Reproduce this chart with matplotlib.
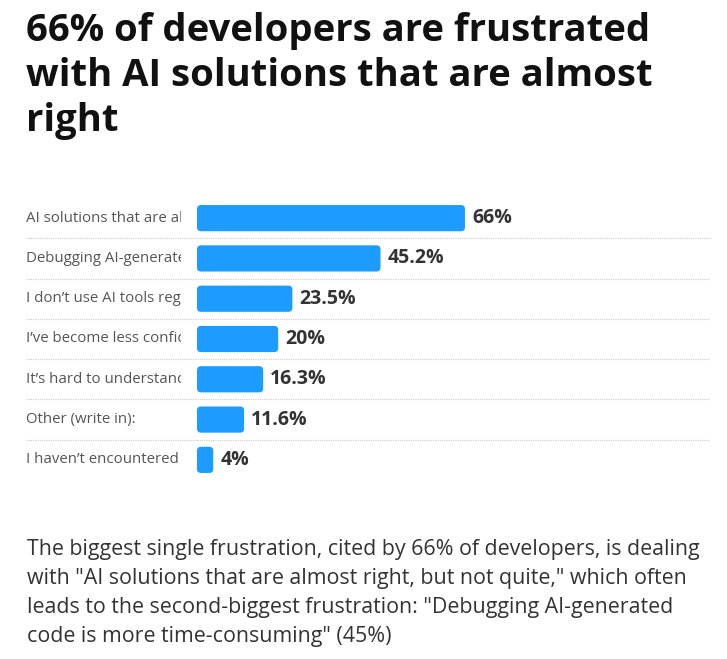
import matplotlib.pyplot as plt
from matplotlib.patches import FancyBboxPatch
from matplotlib.transforms import Bbox

plt.rcParams['font.family'] = ['Open Sans', 'DejaVu Sans']

# 데이터
categories = [
    'AI solutions that are almost right, but not quite',
    'Debugging AI-generated code is more time-consuming',
    'I don\u2019t use AI tools regularly',
    'I\u2019ve become less confident in my own problem-solving',
    'It\u2019s hard to understand how or why the code works',
    'Other (write in):',
    'I haven\u2019t encountered any problems',
]
values = [66, 45.2, 23.5, 20, 16.3, 11.6, 4]
value_labels = ['66%', '45.2%', '23.5%', '20%', '16.3%', '11.6%', '4%']

title_lines = ['66% of developers are frustrated',
               'with AI solutions that are almost',
               'right']
footer_lines = [
    'The biggest single frustration, cited by 66% of developers, is dealing',
    'with "AI solutions that are almost right, but not quite," which often',
    'leads to the second-biggest frustration: "Debugging AI-generated',
    'code is more time-consuming" (45%)',
]

W, H = 727, 659
fig = plt.figure(figsize=(W / 100, H / 100), dpi=100)
renderer = fig.canvas.get_renderer()

# 차트 영역 (픽셀 기준)
left, right, top, bottom = 197, 710, 198, 480
ax = fig.add_axes([left / W, 1 - bottom / H, (right - left) / W, (bottom - top) / H])
px_per_unit = 4.06
ax.set_xlim(0, (right - left) / px_per_unit)
ax.set_ylim(len(values) - 0.5, -0.5)
ax.axis('off')

bar_color = '#1c9cff'
bar_h = 0.65
rx = 4 / px_per_unit
ry = 4 / 40.3
for i, v in enumerate(values):
    p = FancyBboxPatch((0, i - bar_h / 2), v, bar_h,
                       boxstyle='round,pad=0,rounding_size=%f' % rx,
                       mutation_aspect=ry / rx,
                       facecolor=bar_color, edgecolor='none')
    ax.add_patch(p)
    ax.text(v + 7 / px_per_unit, i, value_labels[i], va='center', ha='left',
            fontsize=14, fontweight='bold', color='#333333')

# 카테고리 라벨 - 181px 에서 잘림
tr = ax.get_yaxis_transform()
lab_x = (26 - left) / (right - left)
clip_x = 181
clip = Bbox.from_extents(0, 0, clip_x, H)
for i, c in enumerate(categories):
    t = ax.text(lab_x, i, c, transform=tr, va='center', ha='left',
                fontsize=10.8, color='#555555', clip_on=True)
    # 보이는 부분만 남기기
    s = c
    while t.get_window_extent(renderer).x1 > clip_x + 6 and len(s) > 1:
        s = s[:-1]
        t.set_text(s)
    t.set_clip_box(clip)

# 점선 구분선
for i in range(len(values) - 1):
    ax.plot([lab_x, 1.0], [i + 0.5, i + 0.5], transform=tr, color='#cccccc',
            linestyle=(0, (1, 1)), linewidth=0.8, clip_on=False)

# 제목
for k, line in enumerate(title_lines):
    fig.text(26 / W, 1 - (41 + 45 * k) / H, line, fontsize=27.5,
             fontweight='bold', color='#111111', va='baseline', ha='left')

# 설명 문구
for k, line in enumerate(footer_lines):
    fig.text(27 / W, 1 - (555 + 29 * k) / H, line, fontsize=15.4,
             color='#333333', va='baseline', ha='left')

fig.savefig('out.png', dpi=100)
